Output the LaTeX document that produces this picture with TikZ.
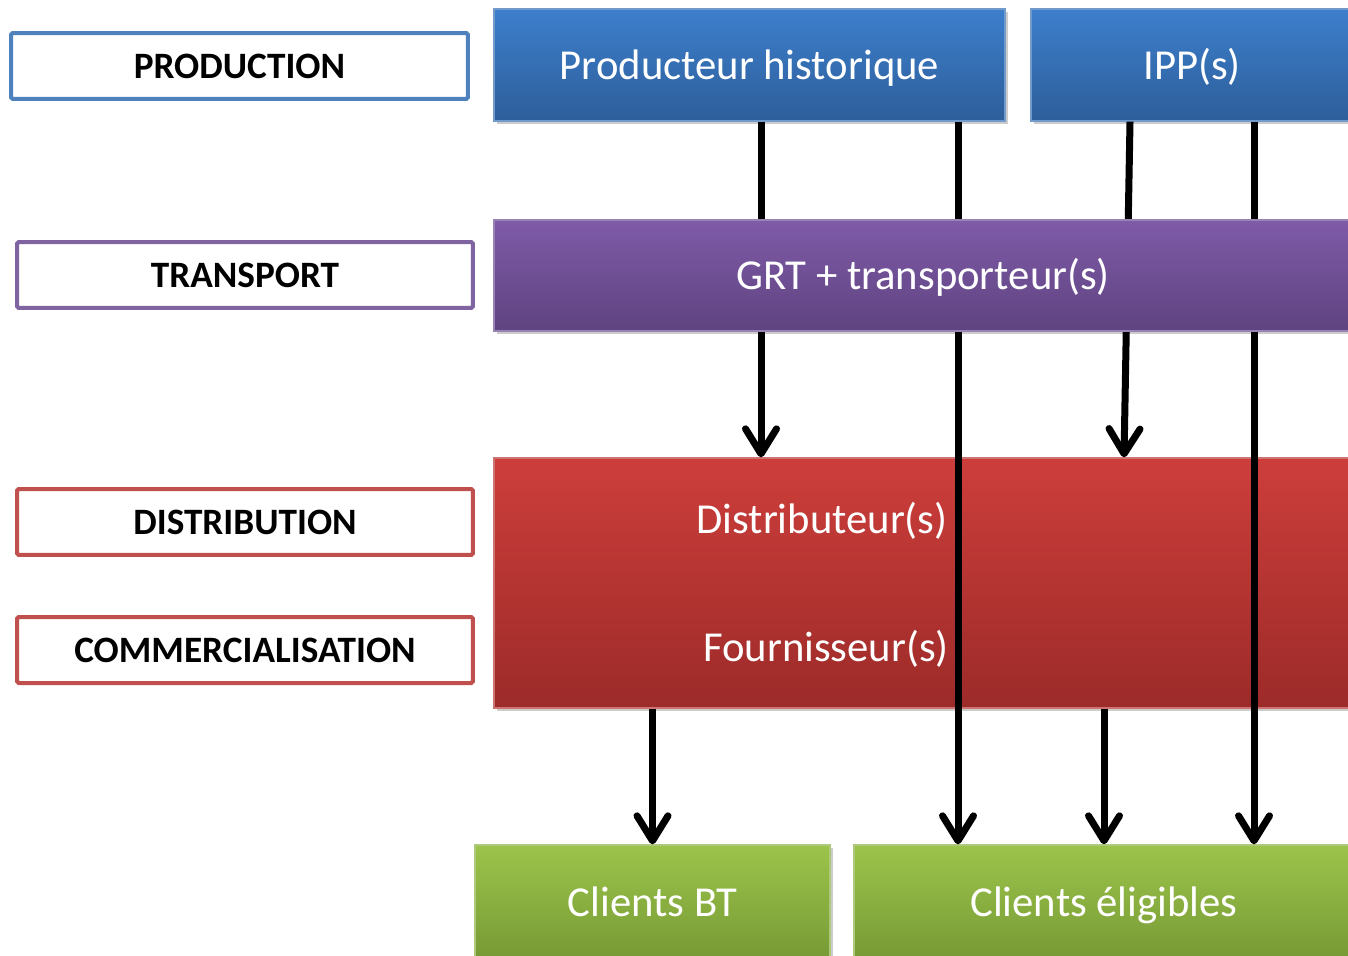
\documentclass[tikz,border=0pt]{standalone}
\usepackage{fontspec}
\setmainfont{Carlito}
\usepackage{xcolor}
\usepackage{tikz}
\usetikzlibrary{positioning, arrows.meta, shapes, shadows}

\definecolor{prodblue}{HTML}{4F81BD}
\definecolor{transviolet}{HTML}{8064A2}
\definecolor{distred}{HTML}{C0504D}
\definecolor{blue_top}{HTML}{3D7FCC}
\definecolor{blue_bot}{HTML}{2D5E9A}
\definecolor{violet_top}{HTML}{7F5BA8}
\definecolor{violet_bot}{HTML}{5F4380}
\definecolor{red_top}{HTML}{CD3E3B}
\definecolor{red_bot}{HTML}{9C2B29}
\definecolor{green_line}{HTML}{9BBB59}
\definecolor{green_top}{HTML}{9CC44B}
\definecolor{green_bot}{HTML}{779A35}

\begin{document}
\begin{tikzpicture}[
    x=0.02cm, y=-0.02cm,
    label_style/.style={draw, line width=0.08cm, rounded corners=1pt, fill=white,
        minimum width=9.12cm, minimum height=1.32cm, inner sep=0pt,
        font=\fontsize{21.2}{25}\selectfont\bfseries},
    box_style/.style={rectangle, inner sep=0pt, text=white, line width=0.8pt,
        font=\fontsize{24.3}{29}\selectfont, text height=0.74cm, text depth=0.16cm,
        drop shadow={shadow xshift=0.06cm, shadow yshift=-0.06cm, fill=black, opacity=0.2}},
    blue_box/.style={box_style, draw=prodblue!80!white, top color=blue_top, bottom color=blue_bot},
    violet_box/.style={box_style, draw=transviolet!80!white, top color=violet_top, bottom color=violet_bot},
    red_box/.style={box_style, draw=distred!80!white, top color=red_top, bottom color=red_bot},
    green_box/.style={box_style, draw=green_line!80!white, top color=green_top, bottom color=green_bot},
    text_style/.style={text=white, font=\fontsize{24.3}{29}\selectfont, text height=0.74cm, text depth=0.16cm},
    arrow_style/.style={line width=0.14cm, -{Straight Barb[length=0.5cm, width=0.62cm, round]}}
]
    \useasboundingbox (0,0) rectangle (1348,956);

    % Level labels
    \node[label_style, draw=prodblue, minimum width=9.14cm] (l_prod) at (239.5,66) {PRODUCTION};
    \node[label_style, draw=transviolet] (l_trans) at (245,275) {TRANSPORT};
    \node[label_style, draw=distred] (l_dist) at (245,522) {DISTRIBUTION};
    \node[label_style, draw=distred] (l_comm) at (245,650) {COMMERCIALISATION};

    % Boxes
    \node[blue_box, minimum width=10.22cm, minimum height=2.24cm] (prod) at (749.5,65) {Producteur historique};
    \node[blue_box, minimum width=6.44cm, minimum height=2.24cm] (ipp) at (1192,65) {IPP(s)};
    \node[red_box, minimum width=17.16cm, minimum height=5cm] (red) at (923,583) {};
    \node[green_box, minimum width=7.1cm, minimum height=2.28cm] (bt) at (652.5,902) {Clients BT};
    \node[green_box, minimum width=10cm, minimum height=2.28cm] (eli) at (1104,902) {Clients éligibles};

    % Arrows
    \draw[arrow_style] (prod.south -| 761,0) -- (red.north -| 761,0);
    \draw[arrow_style] (ipp.south -| 1130,0) -- (red.north -| 1124,0);
    \draw[arrow_style] (prod.south -| 958,0) -- (eli.north -| 958,0);
    \draw[arrow_style] (ipp.south -| 1254,0) -- (eli.north -| 1254,0);
    \draw[arrow_style] (red.south -| bt.north) -- (bt.north);
    \draw[arrow_style] (red.south -| eli.north) -- (eli.north);

    % Transport box on top of the lines
    \node[violet_box, minimum width=17.16cm, minimum height=2.22cm] (grt) at (923,275.5) {GRT + transporteur(s)};

    % Texts of the red box
    \node[text_style] (dist) at (822,519) {Distributeur(s)};
    \node[text_style] (four) at (826,647) {Fournisseur(s)};
\end{tikzpicture}
\end{document}
